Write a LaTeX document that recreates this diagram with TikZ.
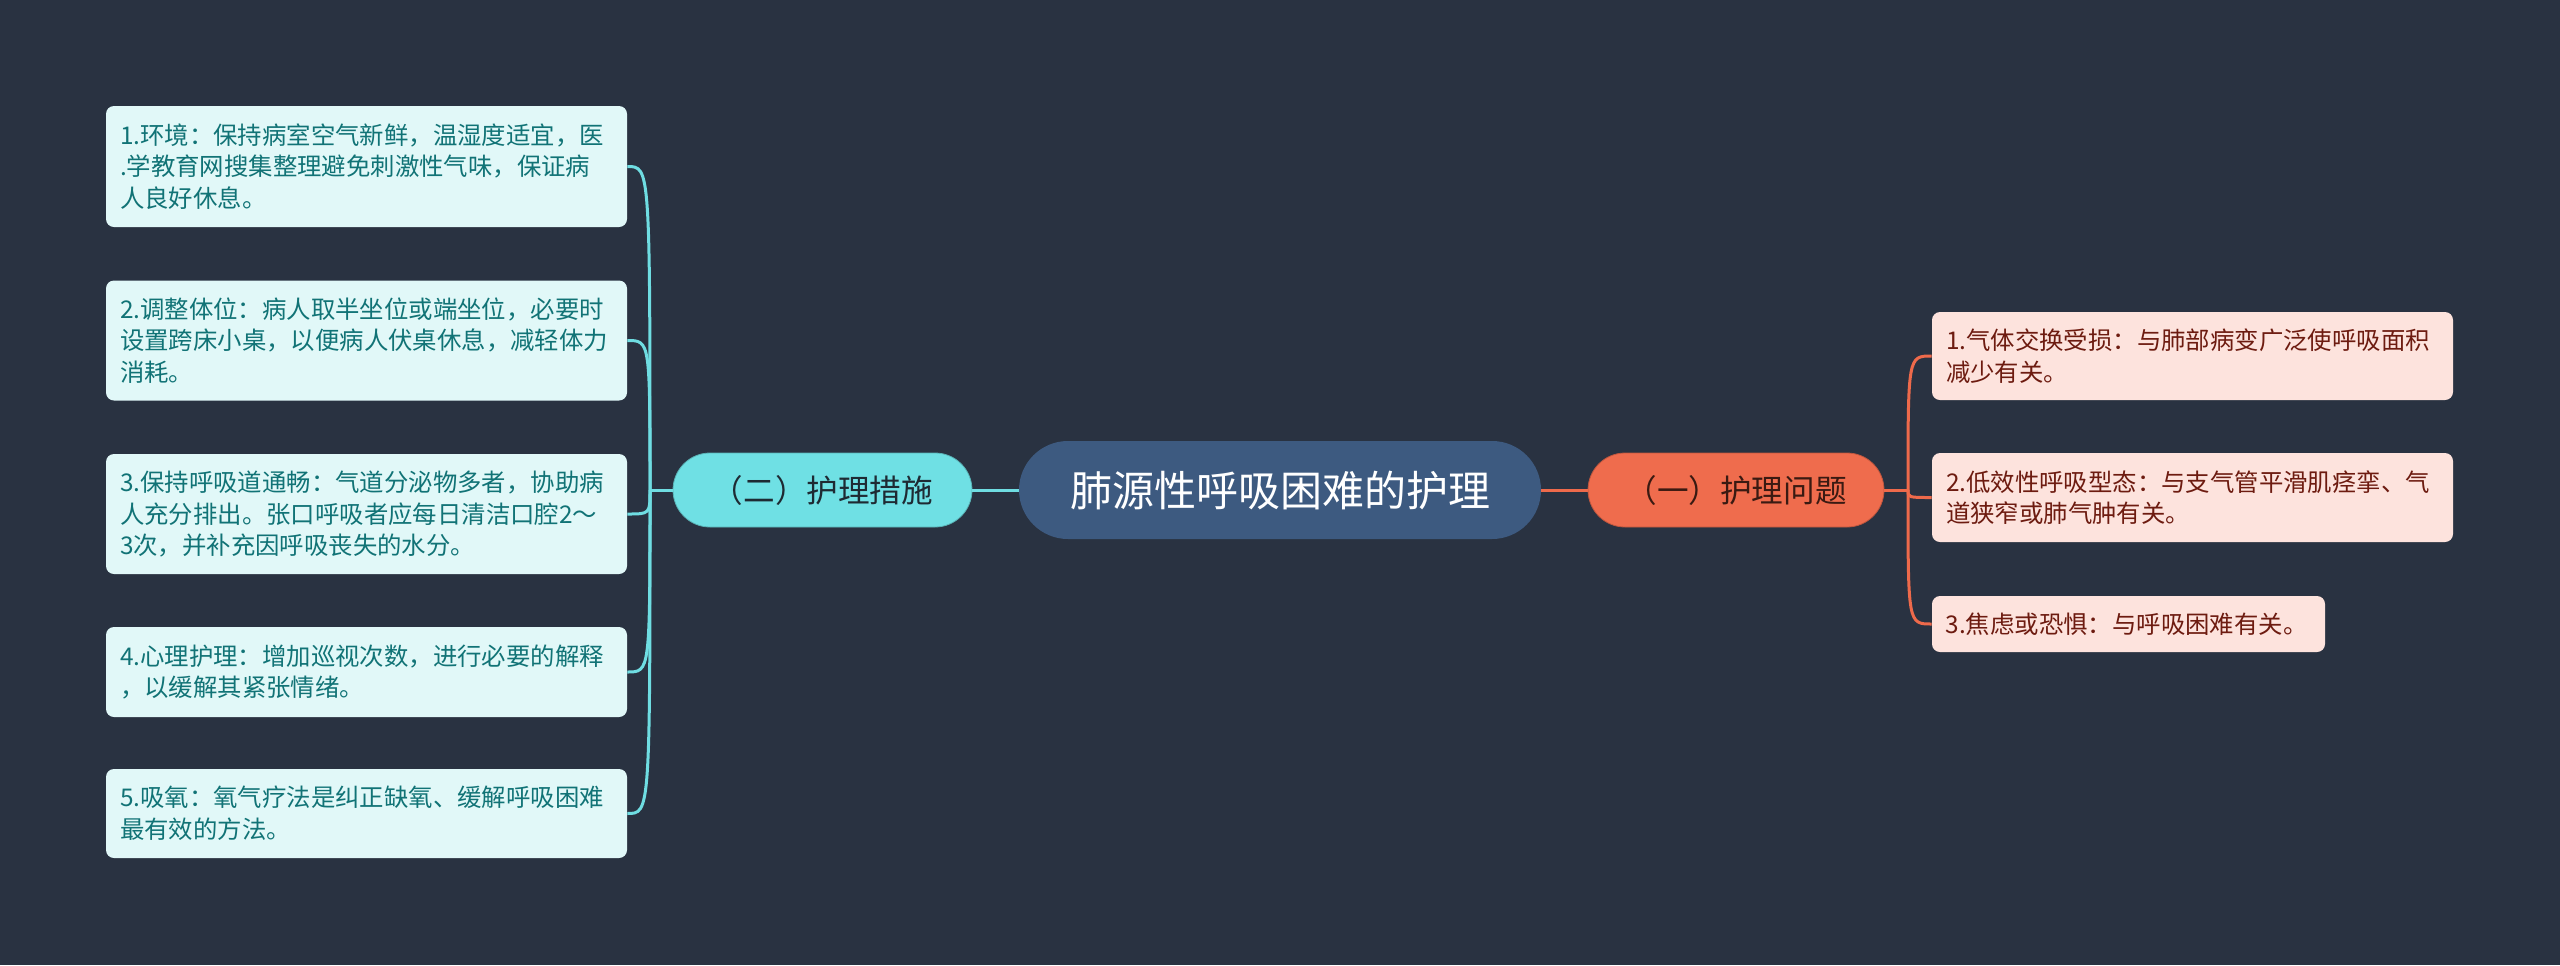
\documentclass[tikz,border=0pt]{standalone}
\usepackage{fontspec}
\setmainfont{Noto Sans CJK SC}
\usetikzlibrary{calc}
\definecolor{bg}{HTML}{293241}
\definecolor{centerfill}{HTML}{3D5A80}
\definecolor{cyanfill}{HTML}{6FE0E4}
\definecolor{cyanleaf}{HTML}{E1F8F8}
\definecolor{cyantext}{HTML}{117376}
\definecolor{cyanline}{HTML}{6FDDE2}
\definecolor{orangefill}{HTML}{EF6C4D}
\definecolor{orangeleaf}{HTML}{FDE3DD}
\definecolor{orangetext}{HTML}{6D1B10}
\definecolor{orangeline}{HTML}{EE6A4B}
\definecolor{branchtextL}{HTML}{1E2A33}
\definecolor{branchtextR}{HTML}{3A1A12}
\newcommand{\leaffont}{\fontsize{12.2pt}{15.9pt}\selectfont}
\begin{document}
\begin{tikzpicture}[x=0.5pt,y=-0.5pt,
  centernode/.style={fill=centerfill, text=white, rounded corners=24.5pt,
    minimum width=261pt, minimum height=49pt, inner sep=0pt,
    font=\fontsize{21pt}{25pt}\selectfont},
  branchL/.style={fill=cyanfill, draw=cyanfill!80!black, line width=0.4pt, text=branchtextL, rounded corners=18.5pt,
    minimum width=149.5pt, minimum height=37pt, inner sep=0pt,
    font=\fontsize{15.8pt}{19pt}\selectfont},
  branchR/.style={fill=orangefill, draw=orangefill!80!black, line width=0.4pt, text=branchtextR, rounded corners=18.5pt,
    minimum width=148pt, minimum height=37pt, inner sep=0pt,
    font=\fontsize{15.8pt}{19pt}\selectfont},
  leafL/.style={fill=cyanleaf, text=cyantext, rounded corners=4pt, align=left,
    inner xsep=7pt, inner ysep=0pt, text width=246.5pt, font=\leaffont},
  leafR/.style={fill=orangeleaf, text=orangetext, rounded corners=4pt, align=left,
    inner xsep=7pt, inner ysep=0pt, text width=246.5pt, font=\leaffont},
  linkL/.style={draw=cyanline, line width=1.5pt},
  linkR/.style={draw=orangeline, line width=1.5pt}
]
\fill[bg] (0,0) rectangle (2560,965);
\useasboundingbox (0,0) rectangle (2560,965);

% center and branches
\node[centernode] (c) at (1280,490) {肺源性呼吸困难的护理};
\node[branchL] (b2) at (822.5,490) {（二）护理措施};
\node[branchR] (b1) at (1736,490) {（一）护理问题};

% left leaves
\node[leafL, minimum height=60.5pt] (L1) at (366.5,166.5)
  {1.环境：保持病室空气新鲜，温湿度适宜，医\\.学教育网搜集整理避免刺激性气味，保证病\\人良好休息。};
\node[leafL, minimum height=60pt] (L2) at (366.5,340.5)
  {2.调整体位：病人取半坐位或端坐位，必要时\\设置跨床小桌，以便病人伏桌休息，减轻体力\\消耗。};
\node[leafL, minimum height=60pt] (L3) at (366.5,514)
  {3.保持呼吸道通畅：气道分泌物多者，协助病\\人充分排出。张口呼吸者应每日清洁口腔2～\\3次，并补充因呼吸丧失的水分。};
\node[leafL, minimum height=45pt] (L4) at (366.5,672)
  {4.心理护理：增加巡视次数，进行必要的解释\\，以缓解其紧张情绪。};
\node[leafL, minimum height=44.5pt] (L5) at (366.5,813.5)
  {5.吸氧：氧气疗法是纠正缺氧、缓解呼吸困难\\最有效的方法。};

% right leaves
\node[leafR, minimum height=44pt] (R1) at (2192.5,356)
  {1.气体交换受损：与肺部病变广泛使呼吸面积\\减少有关。};
\node[leafR, minimum height=44.5pt] (R2) at (2192.5,497.5)
  {2.低效性呼吸型态：与支气管平滑肌痉挛、气\\道狭窄或肺气肿有关。};
\node[leafR, minimum height=28pt, text width=183pt, inner xsep=6.75pt] (R3) at (2128.5,624)
  {3.焦虑或恐惧：与呼吸困难有关。};

% spines
\coordinate (ls) at (650,490);
\coordinate (rs) at (1908,490);

% connectors
\draw[linkL] (c.west) -- (b2.east);
\draw[linkR] (c.east) -- (b1.west);
\draw[linkL] (b2.west) -- (ls);
\draw[linkR] (b1.east) -- (rs);
\foreach \n in {L1,L2,L3,L4,L5}{
  \draw[linkL] (ls) .. controls (ls |- \n.east) .. (\n.east);
}
\foreach \n in {R1,R2,R3}{
  \draw[linkR] (rs) .. controls (rs |- \n.west) .. (\n.west);
}
\end{tikzpicture}
\end{document}
